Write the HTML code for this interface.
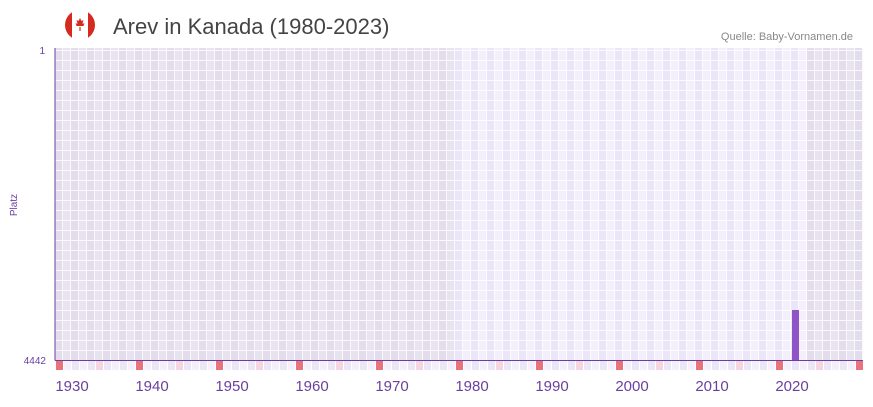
<!DOCTYPE html>
<html><head><meta charset="utf-8"><style>
body{margin:0;background:#fff;width:873px;height:402px;overflow:hidden;font-family:"Liberation Sans",sans-serif}
</style></head><body>
<svg id="s" width="873" height="402" xmlns="http://www.w3.org/2000/svg">
<circle cx="80" cy="25" r="15" fill="#d52b1e"/>
<rect x="72" y="10" width="16" height="30" fill="#fff"/>
<path d="M80 18 l1.5 3 2-1 -1 4 2-1 -1 3h-7l-1-3 2 1-1-4 2 1z" fill="#d52b1e"/>
<rect x="79.4" y="27" width="1.2" height="4" fill="#d52b1e"/>
<text x="113" y="34" font-size="22" fill="#444">Arev in Kanada (1980-2023)</text>
<text x="853" y="40" font-size="11" fill="#888" text-anchor="end">Quelle: Baby-Vornamen.de</text>
<g id="g"></g>
<rect x="792" y="310" width="7" height="50" fill="#8e54c8"/>
<line x1="55" y1="48" x2="55" y2="360.5" stroke="#6a3fa0" stroke-width="1"/>
<line x1="55" y1="360.5" x2="863" y2="360.5" stroke="#6a3fa0" stroke-width="1"/>
<text x="45" y="54" font-size="10" fill="#6a3fa0" text-anchor="end">1</text>
<text x="46" y="364" font-size="10" fill="#6a3fa0" text-anchor="end">4442</text>
<text x="17" y="205" font-size="10" fill="#6a3fa0" text-anchor="middle" transform="rotate(-90 17 205)">Platz</text>
<g id="y" font-size="15" fill="#6a3fa0" text-anchor="middle"></g>
</svg>
<script>
var g=document.getElementById('g'),h='';
for(var i=0;i<101;i++){var x=56+i*8;var dark=(x<455||x>=807);
var c=dark?(i%2?'#e7e3ef':'#e2dcec'):(i%2?'#f3effb':'#ebe5f8');
h+='<rect x="'+(x-1)+'" y="48" width="8" height="312" fill="'+c+'"/>';
var bc=(i%10==0)?'#e8737c':(i%10==5)?'#f5d5e0':(i%2?'#f3effb':'#ebe5f8');
h+='<rect x="'+x+'" y="361" width="7" height="9" fill="'+bc+'"/>';}
for(var i=0;i<=101;i++){h+='<rect x="'+(55+i*8-1)+'" y="48" width="1" height="312" fill="#fff" opacity="0.8"/>';}
for(var y=350;y>48;y-=10){h+='<rect x="55" y="'+y+'" width="808" height="1" fill="#fff" opacity="0.8"/>';}
g.innerHTML=h;
var t='';for(var yr=1930;yr<=2020;yr+=10){t+='<text x="'+(72+(yr-1930)*8)+'" y="391">'+yr+'</text>';}
document.getElementById('y').innerHTML=t;
</script>
</body></html>
